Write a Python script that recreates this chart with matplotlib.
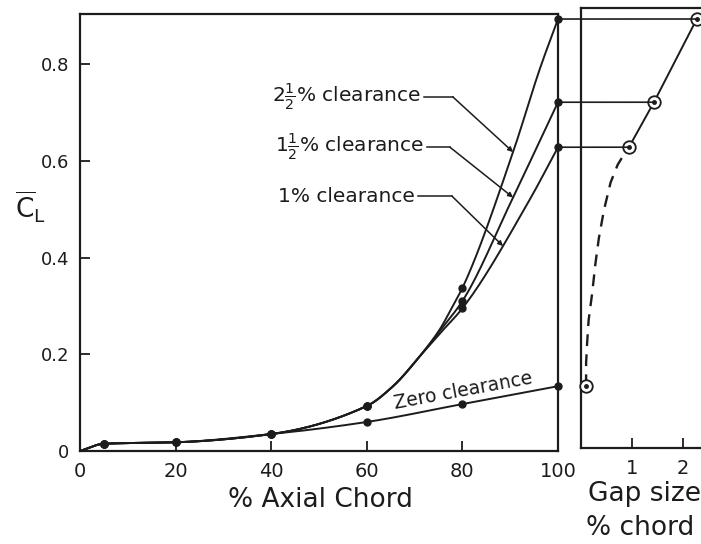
import numpy as np
import matplotlib
matplotlib.use("Agg")
import matplotlib.pyplot as plt
from matplotlib.patches import ConnectionPatch

plt.rcParams["font.family"] = ["DejaVu Sans"]
plt.rcParams["mathtext.fontset"] = "dejavusans"

INK = "#1c1c1c"

# ---- measured lift coefficient along the axial chord ----
chord = [5, 20, 40, 60, 80, 100]
cl_zero = [0.015, 0.018, 0.035, 0.060, 0.097, 0.134]
cl_1 = [0.015, 0.018, 0.035, 0.093, 0.295, 0.628]
cl_15 = [0.015, 0.018, 0.035, 0.093, 0.310, 0.721]
cl_25 = [0.015, 0.018, 0.035, 0.093, 0.337, 0.893]

# fairing points used to draw the faired curves between the measured points
fair_x_zero = [0, 5, 20, 40, 60, 80, 100]
fair_y_zero = [0, 0.015, 0.018, 0.035, 0.060, 0.097, 0.134]
fair_x_1 = [0, 5, 20, 40, 60, 65.5, 71.1, 75.3, 80, 94.1, 100]
fair_y_1 = [0, 0.015, 0.018, 0.035, 0.093, 0.134, 0.196, 0.243, 0.295, 0.52, 0.628]
fair_x_15 = [0, 5, 20, 40, 60, 65.5, 71.1, 75.3, 80, 90.4, 100]
fair_y_15 = [0, 0.015, 0.018, 0.035, 0.093, 0.134, 0.196, 0.249, 0.310, 0.52, 0.721]
fair_x_25 = [0, 5, 20, 40, 60, 65.5, 71.1, 75.3, 78.0, 80, 90.6, 96.2, 100]
fair_y_25 = [0, 0.015, 0.018, 0.035, 0.093, 0.134, 0.196, 0.252, 0.300, 0.337, 0.618, 0.79, 0.893]

# ---- trailing-edge lift versus tip gap ----
gap = [0.10, 0.94, 1.43, 2.27]
gap_cl = [cl_zero[-1], cl_1[-1], cl_15[-1], cl_25[-1]]
# faired (dashed) estimate between zero and 1% gap
fair_gap = [0.10, 0.10, 0.12, 0.15, 0.22, 0.28, 0.35, 0.45, 0.58, 0.72, 0.86, 0.94]
fair_gap_cl = [0.134, 0.182, 0.223, 0.271, 0.327, 0.385, 0.44, 0.498, 0.555, 0.592, 0.616, 0.628]

curve_labels = [r"$2\frac{1}{2}$% clearance", r"$1\frac{1}{2}$% clearance", "1% clearance"]
x_ticks = [0, 20, 40, 60, 80, 100]
y_ticks = [0, 0.2, 0.4, 0.6, 0.8]
y_ticklabels = ["0", "0.2", "0.4", "0.6", "0.8"]
gap_ticks = [1, 2]


def pchip(x, y, xs):
    x = np.asarray(x, float)
    y = np.asarray(y, float)
    xs = np.asarray(xs, float)
    h = np.diff(x)
    d = np.diff(y) / h
    n = len(x)
    m = np.zeros(n)
    for k in range(1, n - 1):
        if d[k - 1] * d[k] > 0:
            w1 = 2 * h[k] + h[k - 1]
            w2 = h[k] + 2 * h[k - 1]
            m[k] = (w1 + w2) / (w1 / d[k - 1] + w2 / d[k])
    m[0] = d[0]
    m[-1] = d[-1]
    i = np.clip(np.searchsorted(x, xs) - 1, 0, n - 2)
    t = (xs - x[i]) / h[i]
    h00 = 2 * t**3 - 3 * t**2 + 1
    h10 = t**3 - 2 * t**2 + t
    h01 = -2 * t**3 + 3 * t**2
    h11 = t**3 - t**2
    return h00 * y[i] + h10 * h[i] * m[i] + h01 * y[i + 1] + h11 * h[i] * m[i + 1]


W, H = 701, 544
fig = plt.figure(figsize=(W / 100, H / 100), dpi=100)
fig.patch.set_facecolor("white")

ymax_main = 0.9034
ax1 = fig.add_axes([80 / W, 93 / H, 478 / W, 437 / H])
ax1.set_xlim(0, 100)
ax1.set_ylim(0, ymax_main)
for s in ax1.spines.values():
    s.set_linewidth(1.6)
    s.set_color(INK)

ax1.set_xticks(x_ticks)
ax1.set_xticklabels([str(v) for v in x_ticks])
ax1.set_yticks(y_ticks)
ax1.set_yticklabels(y_ticklabels)
ax1.tick_params(axis="both", direction="in", length=7, width=1.3, color=INK,
                labelcolor=INK, pad=8)
ax1.tick_params(axis="x", labelsize=14)
ax1.tick_params(axis="y", labelsize=13)

line_kw = dict(color=INK, lw=1.4, solid_capstyle="round")
dense = {}
for name, fx, fy in [("zero", fair_x_zero, fair_y_zero), ("1", fair_x_1, fair_y_1),
                     ("15", fair_x_15, fair_y_15), ("25", fair_x_25, fair_y_25)]:
    xs = np.linspace(fx[0], fx[-1], 400)
    ys = pchip(fx, fy, xs)
    dense[name] = (xs, ys)
    ax1.plot(xs, ys, **line_kw)

for ys in [cl_zero, cl_1, cl_15, cl_25]:
    ax1.plot(chord, ys, "o", color=INK, ms=5, zorder=4, clip_on=False)

# curve labels with leader lines that start just after each label
label_pos = [(40.2, 0.732), (40.8, 0.628), (41.4, 0.527)]
knee_x = [78.0, 77.4, 77.8]
tip_x = [90.6, 90.6, 88.5]
label_texts = []
for lab, (tx, ty) in zip(curve_labels, label_pos):
    label_texts.append(ax1.text(tx, ty, lab, fontsize=14.5, color=INK, ha="left", va="center"))

fig.canvas.draw()
renderer = fig.canvas.get_renderer()
inv = ax1.transData.inverted()
for t, (tx, ty), kx, px, key in zip(label_texts, label_pos, knee_x, tip_x, ["25", "15", "1"]):
    bb = t.get_window_extent(renderer)
    ex = inv.transform((bb.x1 + 3, 0))[0]
    xs, ys = dense[key]
    py = float(np.interp(px, xs, ys))
    ax1.plot([ex, kx], [ty, ty], color=INK, lw=1.1)
    ax1.annotate("", xy=(px, py), xytext=(kx, ty),
                 arrowprops=dict(arrowstyle="-|>", color=INK, lw=1.1,
                                 mutation_scale=7, shrinkA=0, shrinkB=0))

ax1.text(66.0, 0.079, "Zero clearance", fontsize=13.5, color=INK, rotation=10.5,
         rotation_mode="anchor", ha="left", va="bottom")

# ---- right panel ----
ax2 = fig.add_axes([581 / W, 96 / H, 140 / W, 440 / H])
ax2.set_xlim(0, 140 / 51)
ax2.set_ylim(3 / 483.75, 443 / 483.75)
for s in ax2.spines.values():
    s.set_linewidth(1.6)
    s.set_color(INK)
ax2.spines["right"].set_visible(False)
ax2.set_xticks(gap_ticks)
ax2.set_xticklabels([str(v) for v in gap_ticks])
ax2.set_yticks([])
ax2.tick_params(axis="x", direction="in", length=7, width=1.3, color=INK,
                labelcolor=INK, labelsize=14, pad=8)

ax2.plot(fair_gap, fair_gap_cl, color=INK, lw=1.7, linestyle=(0, (5, 3.5)))
ax2.plot(gap[1:], gap_cl[1:], color=INK, lw=1.4)

for g, v in zip(gap[1:], gap_cl[1:]):
    con = ConnectionPatch(xyA=(100, v), coordsA=ax1.transData,
                          xyB=(g, v), coordsB=ax2.transData,
                          color=INK, lw=1.2, zorder=3)
    fig.add_artist(con)

ax2.plot(gap, gap_cl, "o", mfc="white", mec=INK, ms=9, mew=1.3, zorder=6, clip_on=False)
ax2.plot(gap, gap_cl, "o", color=INK, ms=2.5, zorder=7, clip_on=False)

# axis titles
fig.text(320 / W, 1 - 500 / H, "% Axial Chord", fontsize=19, color=INK, ha="center", va="center")
fig.text(645 / W, 1 - 494 / H, "Gap size", fontsize=19, color=INK, ha="center", va="center")
fig.text(640 / W, 1 - 528 / H, "% chord", fontsize=19, color=INK, ha="center", va="center")
fig.text(30 / W, 1 - 207 / H, r"$\overline{\mathrm{C}}_{\mathrm{L}}$", fontsize=19, color=INK,
         ha="center", va="center")

fig.savefig("out.png", dpi=100)
